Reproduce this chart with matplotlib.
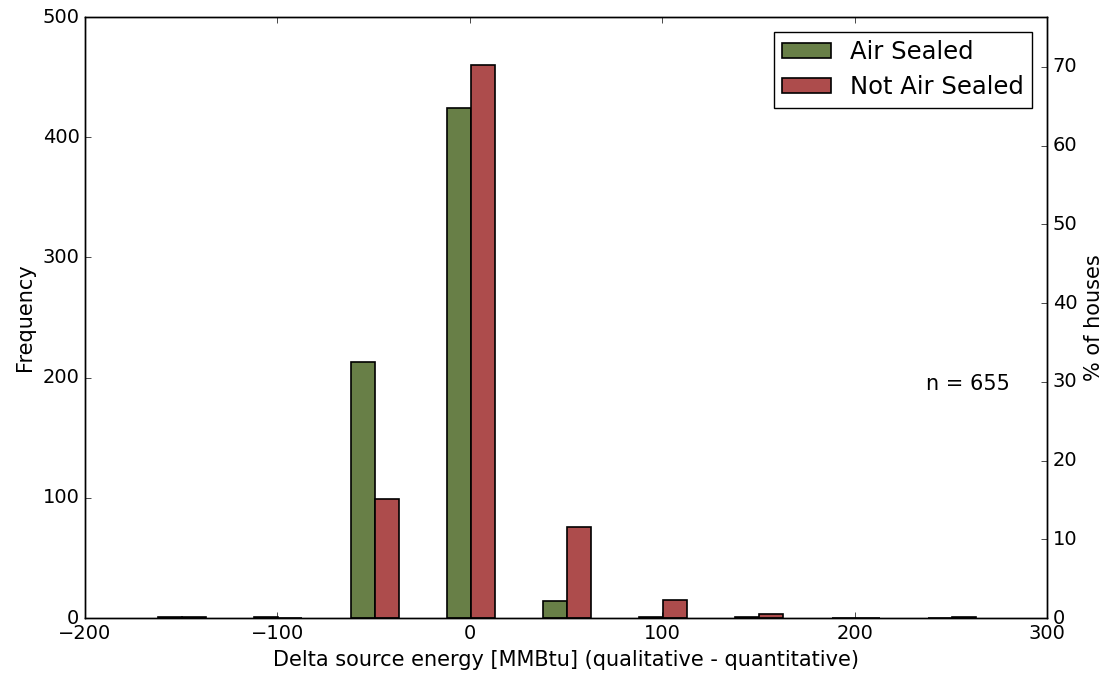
import matplotlib.pyplot as plt
import numpy as np

plt.style.use('classic')

# histogram counts per 50 MMBtu bin (bin centres)
bin_centers = [-150, -100, -50, 0, 50, 100, 150, 200, 250]
air_sealed = [1, 1, 213, 424, 14, 1, 1, 0, 0]
not_air_sealed = [1, 0, 99, 460, 76, 15, 3, 0, 1]
n_houses = 655

green = '#687f47'
red = '#ad4c4c'

fig = plt.figure(figsize=(11.14, 6.73), dpi=100, facecolor='white')
ax = fig.add_axes([0.0763, 0.0817, 0.8636, 0.893])

centers = np.array(bin_centers) + 0.5
bar_w = 12.5
ax.bar(centers - bar_w / 2, air_sealed, width=bar_w, color=green,
       edgecolor='black', linewidth=1.2, label='Air Sealed')
ax.bar(centers + bar_w / 2, not_air_sealed, width=bar_w, color=red,
       edgecolor='black', linewidth=1.2, label='Not Air Sealed')

ax.set_xlim(-200, 300)
ax.set_ylim(0, 500)
ax.set_xticks(range(-200, 301, 100))
ax.set_yticks(range(0, 501, 100))
ax.tick_params(labelsize=14)
ax.set_xlabel('Delta source energy [MMBtu] (qualitative - quantitative)', fontsize=15)
ax.set_ylabel('Frequency', fontsize=15)
ax.text(237, 190, 'n = %d' % n_houses, fontsize=15)

leg = ax.legend(loc='upper right', fontsize=17.5, fancybox=False,
                handlelength=2.0, handleheight=0.6, borderpad=0.35,
                labelspacing=0.45, borderaxespad=0.6)
leg.get_frame().set_edgecolor('black')

# second axis showing share of houses
ax2 = ax.twinx()
ax2.set_ylim(0, 500 / n_houses * 100)
ax2.set_yticks(range(0, 71, 10))
ax2.tick_params(labelsize=14)
ax2.set_ylabel('% of houses', fontsize=15)

fig.savefig('out.png', dpi=100, facecolor='white')
